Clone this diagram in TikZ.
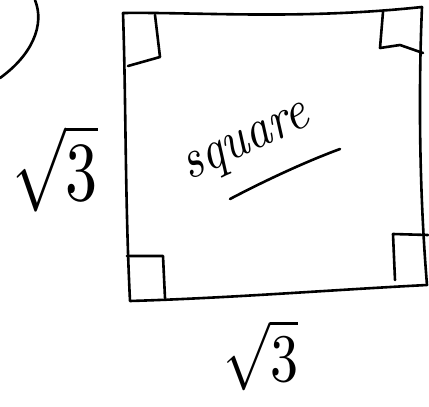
\documentclass[tikz,border=0pt]{standalone}
\usepackage{graphicx}
\begin{document}
\begin{tikzpicture}[x=1pt,y=-1pt,
  ink/.style={line width=2.6pt,line cap=round,line join=round,black},
  lbl/.style={inner sep=0pt}]
\useasboundingbox (0,0) rectangle (429,407);
% square
\coordinate (tl) at (123,13);
\coordinate (tr) at (422,7);
\coordinate (br) at (427,285);
\coordinate (bl) at (130,301);
\draw[ink] (tl) .. controls (200,12) and (300,20) .. (tr)
  .. controls (418,100) and (420,200) .. (br)
  .. controls (330,290) and (230,298) .. (bl)
  .. controls (125,200) and (126,100) .. cycle;
% right angle marks
\draw[ink] (155,15) -- (160,57) -- (128,66);
\draw[ink] (383,12) -- (380,48) -- (400,45) -- (423,53);
\draw[ink] (395,280) -- (393,234) -- (428,235);
\draw[ink] (127,256) -- (163,256) -- (165,298);
% arc
\draw[ink] (35,0) .. controls (45,25) and (32,55) .. (0,78);
% label
\node[inner sep=0pt,rotate=25] (sq) at (248,146) {\scalebox{4.9}[5.6]{\itshape square}};
\draw[ink] (230,199) .. controls (270,178) and (310,160) .. (340,149);
% sqrt 3 labels
\node[lbl] (left) at (55,168) {\scalebox{6.4}[8.4]{$\sqrt{3}$}};
\node[lbl] (bottom) at (261,355) {\scalebox{5.6}[6.8]{$\sqrt{3}$}};
\end{tikzpicture}
\end{document}
